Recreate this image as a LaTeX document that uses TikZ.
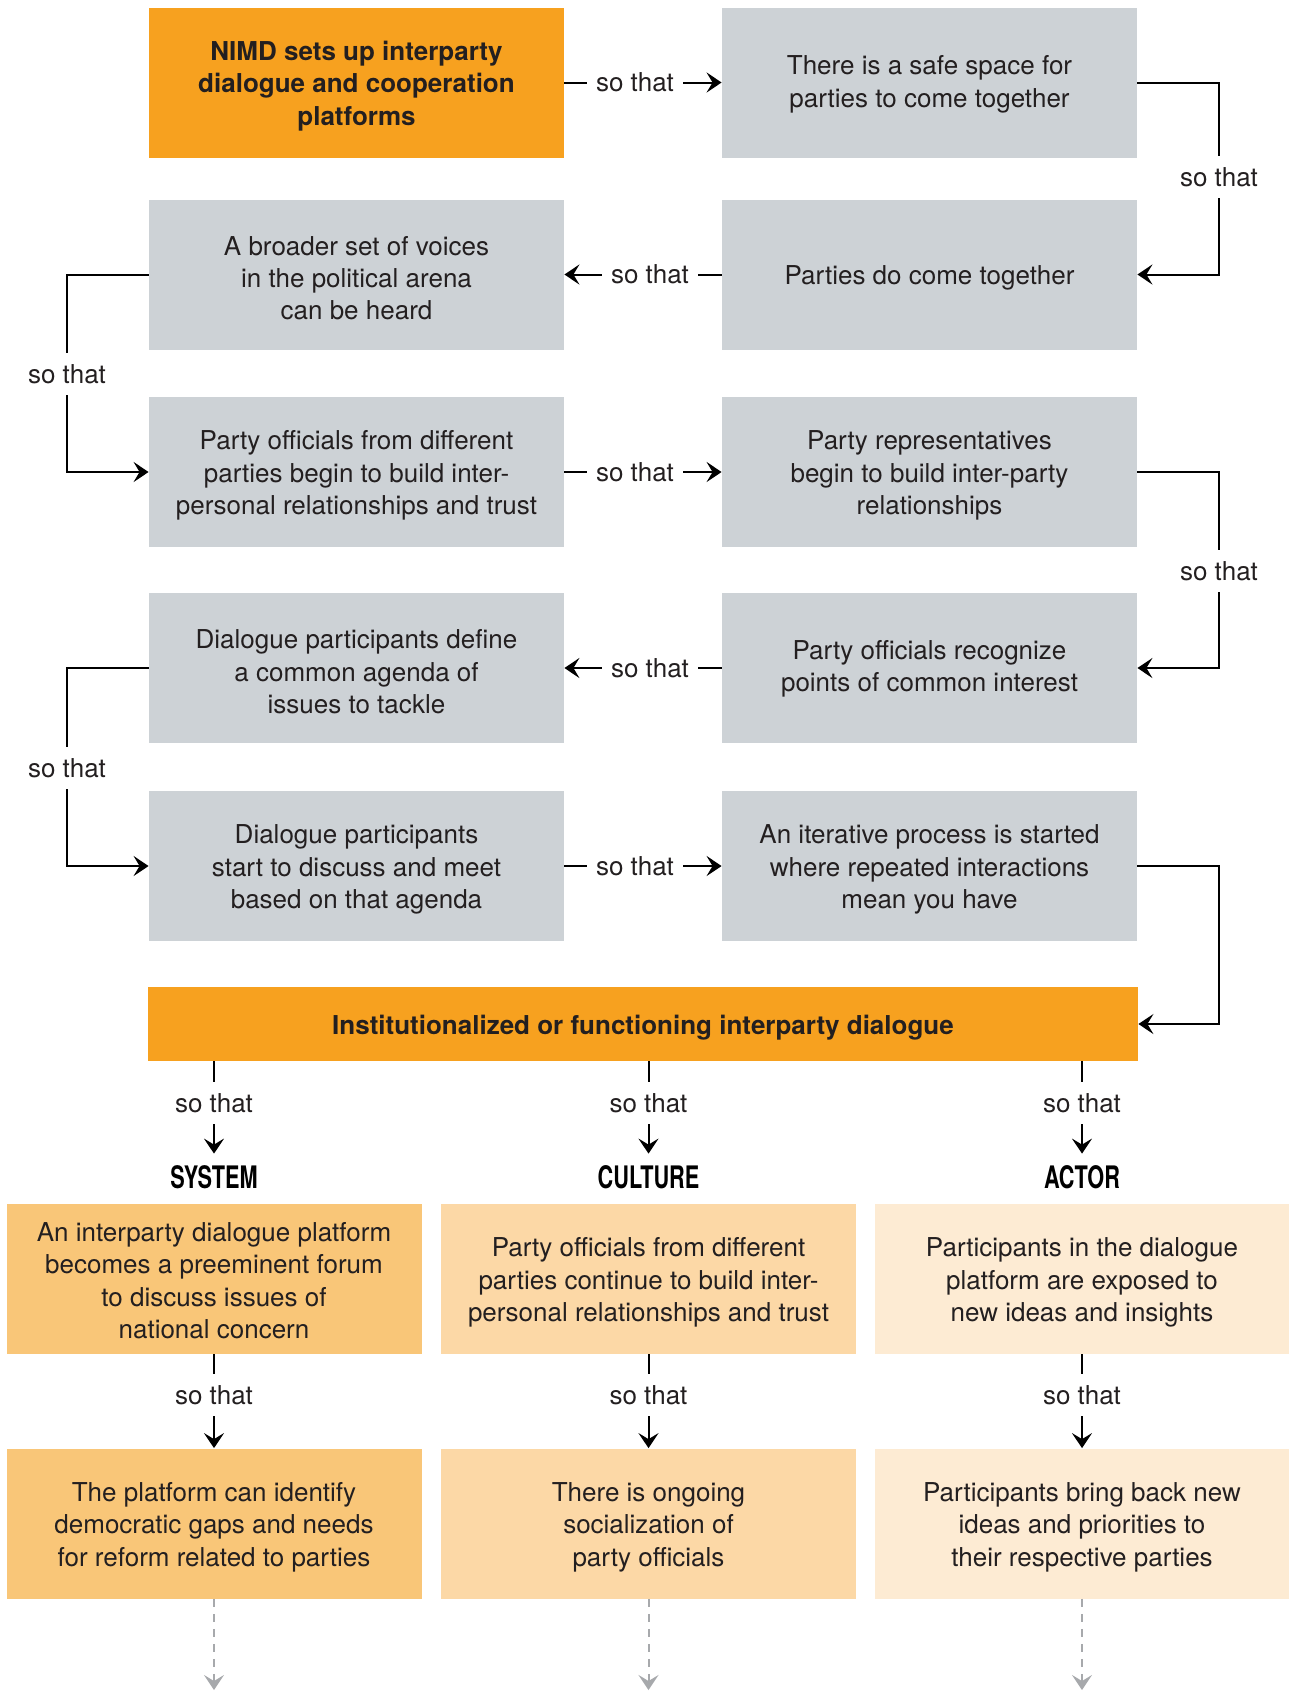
\documentclass[tikz,border=0pt]{standalone}
\usepackage{fontspec}
\setmainfont{TeX Gyre Heros}
\newfontfamily\condfont[FakeStretch=0.7]{TeX Gyre Heros}
\usetikzlibrary{arrows.meta}

\definecolor{nimdorange}{HTML}{F7A11F}
\definecolor{stepgray}{HTML}{CDD2D6}
\definecolor{sysfill}{HTML}{F9C678}
\definecolor{culfill}{HTML}{FCD8A6}
\definecolor{actfill}{HTML}{FDEBD3}
\definecolor{inkblack}{HTML}{231F20}
\definecolor{dashgray}{HTML}{A7A9AC}

\begin{document}
\begin{tikzpicture}[x=0.5pt,y=-0.5pt,
  font=\fontsize{13}{16.2}\selectfont,
  % invisible strut that lowers the text block slightly inside its box
  topstrut/.style={execute at begin node={\rule{0pt}{#1}}},
  one/.style={topstrut=13pt},
  two/.style={topstrut=27.4pt},
  three/.style={topstrut=45.6pt},
  four/.style={topstrut=59.6pt},
  box/.style={minimum width=207.5pt, minimum height=75pt, inner sep=0pt,
              align=center, text=inkblack},
  graybox/.style={box, fill=stepgray},
  keybox/.style={box, fill=nimdorange, font=\fontsize{13}{16.2}\selectfont\bfseries},
  sysbox/.style={box, fill=sysfill},
  culbox/.style={box, fill=culfill},
  actbox/.style={box, fill=actfill},
  sothat/.style={inner xsep=4.5pt, inner ysep=0pt, minimum height=21pt, text=inkblack},
  colhead/.style={inner sep=0pt, minimum height=23pt, text=black,
                  font=\fontsize{15.5}{18}\selectfont\condfont\bfseries},
  link/.style={line width=1pt, draw=black},
  arr/.style={link, -{Stealth[length=7.5pt,width=10pt,inset=3pt]}},
  fadearr/.style={line width=1pt, draw=dashgray, dash pattern=on 4pt off 3.5pt,
                  -{Stealth[length=7.5pt,width=10pt,inset=3pt,fill=dashgray]}}
]
\useasboundingbox (0,0) rectangle (1289,1692);

% ---- chain of steps ----
\node[keybox, three]  (l1) at (356.5,82.5) {NIMD sets up interparty\\dialogue and cooperation\\platforms};
\node[graybox, two]   (r1) at (929.5,82.5) {There is a safe space for\\parties to come together};
\node[graybox, one]   (r2) at (929.5,274.5) {Parties do come together};
\node[graybox, three] (l2) at (356.5,274.5) {A broader set of voices\\in the political arena\\can be heard};
\node[graybox, three] (l3) at (356.5,472) {Party officials from different\\parties begin to build inter-\\personal relationships and trust};
\node[graybox, three] (r3) at (929.5,472) {Party representatives\\begin to build inter-party\\relationships};
\node[graybox, topstrut=26.5pt] (r4) at (929.5,668) {Party officials recognize\\points of common interest};
\node[graybox, three] (l4) at (356.5,668) {Dialogue participants define\\a common agenda of\\issues to tackle};
\node[graybox, three] (l5) at (356.5,866) {Dialogue participants\\start to discuss and meet\\based on that agenda};
\node[graybox, three] (r5) at (929.5,866) {An iterative process is started\\where repeated interactions\\mean you have};

\node[box, one, fill=nimdorange, minimum width=495pt, minimum height=37pt,
      font=\fontsize{13}{15}\selectfont\bfseries] (inst) at (643,1024)
      {Institutionalized or functioning interparty dialogue};

% ---- horizontal links ----
\node[sothat] (h1) at (635,82.5) {so that};
\draw[link] (l1.east) -- (h1.west);
\draw[arr]  (h1.east) -- (r1.west);

\node[sothat] (h2) at (650,274.5) {so that};
\draw[link] (r2.west) -- (h2.east);
\draw[arr]  (h2.west) -- (l2.east);

\node[sothat] (h3) at (635,472) {so that};
\draw[link] (l3.east) -- (h3.west);
\draw[arr]  (h3.east) -- (r3.west);

\node[sothat] (h4) at (650,668) {so that};
\draw[link] (r4.west) -- (h4.east);
\draw[arr]  (h4.west) -- (l4.east);

\node[sothat] (h5) at (635,866) {so that};
\draw[link] (l5.east) -- (h5.west);
\draw[arr]  (h5.east) -- (r5.west);

% ---- side loops ----
\node[sothat] (v1) at (1219,177) {so that};
\draw[link] (r1.east) -| (v1.north);
\draw[arr]  (v1.south) |- (r2.east);

\node[sothat] (v2) at (67,374) {so that};
\draw[link] (l2.west) -| (v2.north);
\draw[arr]  (v2.south) |- (l3.west);

\node[sothat] (v3) at (1219,571) {so that};
\draw[link] (r3.east) -| (v3.north);
\draw[arr]  (v3.south) |- (r4.east);

\node[sothat] (v4) at (67,768) {so that};
\draw[link] (l4.west) -| (v4.north);
\draw[arr]  (v4.south) |- (l5.west);

\draw[arr] (r5.east) -- (r5.east -| v1) |- (inst.east);

% ---- three outcome columns ----
\node[colhead] (hs) at (214,1177)   {SYSTEM};
\node[colhead] (hc) at (648.5,1177) {CULTURE};
\node[colhead] (ha) at (1082,1177)  {ACTOR};

\foreach \c/\x in {s/214, c/648.5, a/1082}{
  \node[sothat] (t\c) at (\x,1103) {so that};
  \draw[link] (t\c.north |- inst.south) -- (t\c.north);
  \draw[arr]  (t\c.south) -- (h\c.north);
}

\node[sysbox, four]  (a1) at (214,1279)   {An interparty dialogue platform\\becomes a preeminent forum\\to discuss issues of\\national concern};
\node[culbox, three] (a2) at (648.5,1279) {Party officials from different\\parties continue to build inter-\\personal relationships and trust};
\node[actbox, three] (a3) at (1082,1279)  {Participants in the dialogue\\platform are exposed to\\new ideas and insights};

\node[sysbox, three] (b1) at (214,1523.5)   {The platform can identify\\democratic gaps and needs\\for reform related to parties};
\node[culbox, three] (b2) at (648.5,1523.5) {There is ongoing\\socialization of\\party officials};
\node[actbox, three] (b3) at (1082,1523.5)  {Participants bring back new\\ideas and priorities to\\their respective parties};

\foreach \i/\x in {1/214, 2/648.5, 3/1082}{
  \node[sothat] (m\i) at (\x,1395) {so that};
  \draw[link] (a\i.south) -- (m\i.north);
  \draw[arr]  (m\i.south) -- (b\i.north);
  \coordinate (e\i) at (\x,1690);
  \draw[fadearr] (b\i.south) -- (e\i);
}
\end{tikzpicture}
\end{document}
